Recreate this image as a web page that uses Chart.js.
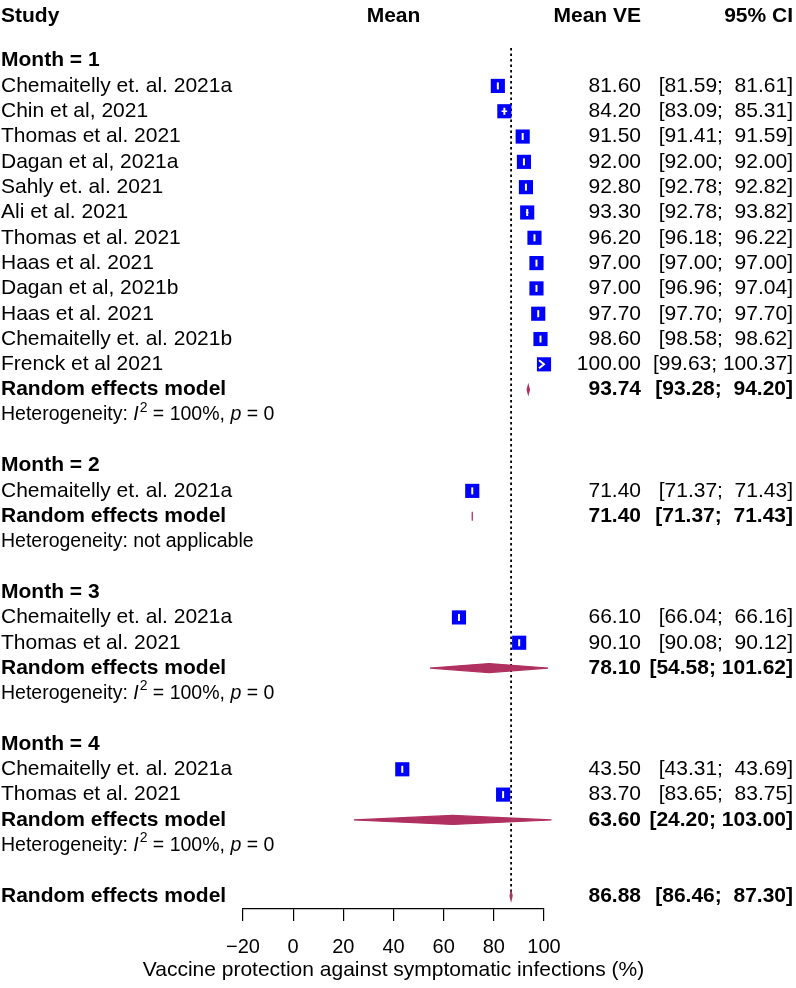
<!DOCTYPE html>
<html>
<head>
<meta charset="utf-8">
<title>Forest plot - vaccine protection</title>
<script src="https://cdn.jsdelivr.net/npm/chart.js@4.4.1/dist/chart.umd.min.js"></script>
<style>
    html, body { margin: 0; padding: 0; background: #fff; }
    .forest-wrapper { position: relative; width: 796px; height: 988px; }
</style>
</head>
<body>
<div class="forest-wrapper"><canvas id="forest-chart"></canvas></div>
<script>
// data
var groupLabels = ['Month = 1', 'Month = 2', 'Month = 3', 'Month = 4'];

var studyNames = [
    'Chemaitelly et. al. 2021a', 'Chin et al, 2021', 'Thomas et al. 2021', 'Dagan et al, 2021a',
    'Sahly et. al. 2021', 'Ali et al. 2021', 'Thomas et al. 2021', 'Haas et al. 2021',
    'Dagan et al, 2021b', 'Haas et al. 2021', 'Chemaitelly et. al. 2021b', 'Frenck et al 2021',
    'Chemaitelly et. al. 2021a',
    'Chemaitelly et. al. 2021a', 'Thomas et al. 2021',
    'Chemaitelly et. al. 2021a', 'Thomas et al. 2021'
];
var studyGroups = [0, 0, 0, 0, 0, 0, 0, 0, 0, 0, 0, 0, 1, 2, 2, 3, 3];
var studyMeans = [81.60, 84.20, 91.50, 92.00, 92.80, 93.30, 96.20, 97.00, 97.00, 97.70, 98.60, 100.00,
    71.40, 66.10, 90.10, 43.50, 83.70];
var studyLower = [81.59, 83.09, 91.41, 92.00, 92.78, 92.78, 96.18, 97.00, 96.96, 97.70, 98.58, 99.63,
    71.37, 66.04, 90.08, 43.31, 83.65];
var studyUpper = [81.61, 85.31, 91.59, 92.00, 92.82, 93.82, 96.22, 97.00, 97.04, 97.70, 98.62, 100.37,
    71.43, 66.16, 90.12, 43.69, 83.75];

var pooledMeans = [93.74, 71.40, 78.10, 63.60];
var pooledLower = [93.28, 71.37, 54.58, 24.20];
var pooledUpper = [94.20, 71.43, 101.62, 103.00];
var heterogeneityI2 = [100, null, 100, 100];
var heterogeneityP = [0, null, 0, 0];

var overallMean = 86.88;
var overallLower = 86.46;
var overallUpper = 87.30;

var xTicks = [-20, 0, 20, 40, 60, 80, 100];
var xTitle = 'Vaccine protection against symptomatic infections (%)';
var headers = ['Study', 'Mean', 'Mean VE', '95% CI'];

(function() { "use strict";

    var FONT = '"Liberation Sans", Arial, Helvetica, sans-serif';
    Chart.defaults.font.family = FONT;
    Chart.defaults.color = '#000';

    // one line per row: group title, studies, pooled, heterogeneity, blank
    var rows = [], r = 0;
    groupLabels.forEach(function(label, g) {
        rows.push({ type: 'group', row: r++, g: g });
        studyNames.forEach(function(name, i) {
            if (studyGroups[i] === g) rows.push({ type: 'study', row: r++, i: i });
        });
        rows.push({ type: 'pooled', row: r++, g: g });
        rows.push({ type: 'het', row: r++, g: g });
        r++;
    });
    rows.push({ type: 'overall', row: r });

    var squares = rows.filter(function(o) { return o.type === 'study'; }).map(function(o) {
        return { x: studyMeans[o.i], y: o.row, i: o.i };
    });

    function fmt(v) { return v.toFixed(2); }
    function ciText(lo, hi) { return '[' + fmt(lo) + '; ' + fmt(hi).padStart(6, ' ') + ']'; }

    var colStudy = 1, colMean = 641, colCi = 793;

    function drawHet(ctx, x, y, g) {
        var parts;
        if (heterogeneityI2[g] === null) {
            parts = [['Heterogeneity: not applicable', '']];
        } else {
            parts = [['Heterogeneity: ', ''], ['I', 'italic '], ['2', 'sup'],
                [' = ' + heterogeneityI2[g] + '%, ', ''], ['p', 'italic '], [' = ' + heterogeneityP[g], '']];
        }
        ctx.textAlign = 'left';
        parts.forEach(function(p) {
            if (p[1] === 'sup') {
                ctx.font = '14px ' + FONT;
                ctx.fillText(p[0], x + 1, y - 7);
                x += ctx.measureText(p[0]).width + 1;
            } else {
                ctx.font = p[1] + '19.5px ' + FONT;
                ctx.fillText(p[0], x, y);
                x += ctx.measureText(p[0]).width;
            }
        });
    }

    function diamond(ctx, xs, y, lo, mid, hi) {
        var h = 4.5;
        ctx.beginPath();
        ctx.moveTo(xs.getPixelForValue(lo), y);
        ctx.lineTo(xs.getPixelForValue(mid), y - h);
        ctx.lineTo(xs.getPixelForValue(hi), y);
        ctx.lineTo(xs.getPixelForValue(mid), y + h);
        ctx.closePath();
        ctx.fillStyle = '#B03060';
        ctx.strokeStyle = '#B03060';
        ctx.lineWidth = 1.2;
        ctx.fill();
        ctx.stroke();
    }

    var forestPlugin = {
        id: 'forestPlot',
        beforeDatasetsDraw: function(chart) {
            var ctx = chart.ctx, xs = chart.scales.x, ys = chart.scales.y;
            var px = xs.getPixelForValue(overallMean);
            ctx.save();
            ctx.strokeStyle = '#000';
            ctx.lineWidth = 1.8;
            ctx.setLineDash([2.5, 3]);
            ctx.beginPath();
            ctx.moveTo(px, ys.getPixelForValue(-0.5));
            ctx.lineTo(px, ys.getPixelForValue(r));
            ctx.stroke();
            ctx.restore();
        },
        afterDatasetsDraw: function(chart) {
            var ctx = chart.ctx, xs = chart.scales.x, ys = chart.scales.y;
            var xmin = xTicks[0], xmax = xTicks[xTicks.length - 1];
            ctx.save();

            // white CI marks inside the squares
            ctx.strokeStyle = '#fff';
            squares.forEach(function(s) {
                var y = ys.getPixelForValue(s.y);
                var x = xs.getPixelForValue(s.x);
                var lo = xs.getPixelForValue(Math.max(studyLower[s.i], xmin));
                var hi = xs.getPixelForValue(Math.min(studyUpper[s.i], xmax));
                ctx.lineWidth = 1.5;
                ctx.beginPath();
                ctx.moveTo(lo, y); ctx.lineTo(hi, y);
                ctx.stroke();
                ctx.lineWidth = 2;
                ctx.beginPath();
                if (studyUpper[s.i] > xmax) {
                    ctx.moveTo(hi - 5, y - 4); ctx.lineTo(hi, y); ctx.lineTo(hi - 5, y + 4);
                } else {
                    ctx.moveTo(x, y - 3.5); ctx.lineTo(x, y + 3.5);
                }
                ctx.stroke();
            });

            // text columns
            ctx.fillStyle = '#000';
            ctx.textBaseline = 'middle';
            var hy = ys.getPixelForValue(-1.77);
            ctx.font = 'bold 21px ' + FONT;
            ctx.textAlign = 'left';
            ctx.fillText(headers[0], colStudy, hy);
            ctx.textAlign = 'center';
            ctx.fillText(headers[1], (xs.left + xs.right) / 2, hy);
            ctx.textAlign = 'right';
            ctx.fillText(headers[2], colMean, hy);
            ctx.fillText(headers[3], colCi, hy);

            rows.forEach(function(o) {
                var y = ys.getPixelForValue(o.row);
                if (o.type === 'group') {
                    ctx.font = 'bold 21px ' + FONT;
                    ctx.textAlign = 'left';
                    ctx.fillText(groupLabels[o.g], colStudy, y);
                } else if (o.type === 'study') {
                    ctx.font = '21px ' + FONT;
                    ctx.textAlign = 'left';
                    ctx.fillText(studyNames[o.i], colStudy, y);
                    ctx.textAlign = 'right';
                    ctx.fillText(fmt(studyMeans[o.i]), colMean, y);
                    ctx.fillText(ciText(studyLower[o.i], studyUpper[o.i]), colCi, y);
                } else if (o.type === 'pooled' || o.type === 'overall') {
                    var m = o.type === 'pooled' ? pooledMeans[o.g] : overallMean;
                    var lo = o.type === 'pooled' ? pooledLower[o.g] : overallLower;
                    var hi = o.type === 'pooled' ? pooledUpper[o.g] : overallUpper;
                    diamond(ctx, xs, y, lo, m, hi);
                    ctx.fillStyle = '#000';
                    ctx.font = 'bold 21px ' + FONT;
                    ctx.textAlign = 'left';
                    ctx.fillText('Random effects model', colStudy, y);
                    ctx.textAlign = 'right';
                    ctx.fillText(fmt(m), colMean, y);
                    ctx.fillText(ciText(lo, hi), colCi, y);
                } else if (o.type === 'het') {
                    drawHet(ctx, colStudy, y, o.g);
                }
            });

            // axis title, centred under the axis and free to run wider than it
            ctx.font = '21px ' + FONT;
            ctx.textAlign = 'center';
            ctx.fillText(xTitle, (xs.left + xs.right) / 2, 970);
            ctx.restore();
        }
    };

    new Chart(document.getElementById('forest-chart'), {
        type: 'scatter',
        data: {
            datasets: [{
                label: 'Studies',
                data: squares,
                pointStyle: 'rect',
                pointRadius: 10,
                pointHoverRadius: 10,
                backgroundColor: '#0000FF',
                borderColor: '#0000FF',
                borderWidth: 0,
                clip: false
            }]
        },
        options: {
            responsive: true,
            maintainAspectRatio: false,
            animation: false,
            events: [],
            layout: { padding: { top: 5, left: 243, right: 252, bottom: 0 } },
            plugins: {
                legend: { display: false },
                tooltip: { enabled: false }
            },
            scales: {
                x: {
                    type: 'linear',
                    min: xTicks[0],
                    max: xTicks[xTicks.length - 1],
                    afterBuildTicks: function(scale) {
                        scale.ticks = xTicks.map(function(v) { return { value: v }; });
                    },
                    afterFit: function(scale) { scale.height = 79; },
                    grid: {
                        drawOnChartArea: false,
                        drawTicks: true,
                        tickLength: 12,
                        color: '#000',
                        lineWidth: 1.2
                    },
                    border: { display: true, color: '#000', width: 1.2 },
                    ticks: {
                        padding: 14,
                        maxRotation: 0,
                        autoSkip: false,
                        font: { size: 20 },
                        callback: function(v) { return v < 0 ? '\u2212' + Math.abs(v) : String(v); }
                    },
                    title: { display: false }
                },
                y: {
                    type: 'linear',
                    display: false,
                    reverse: true,
                    min: -2,
                    max: 33.52
                }
            }
        },
        plugins: [forestPlugin]
    });

})();
</script>
</body>
</html>
